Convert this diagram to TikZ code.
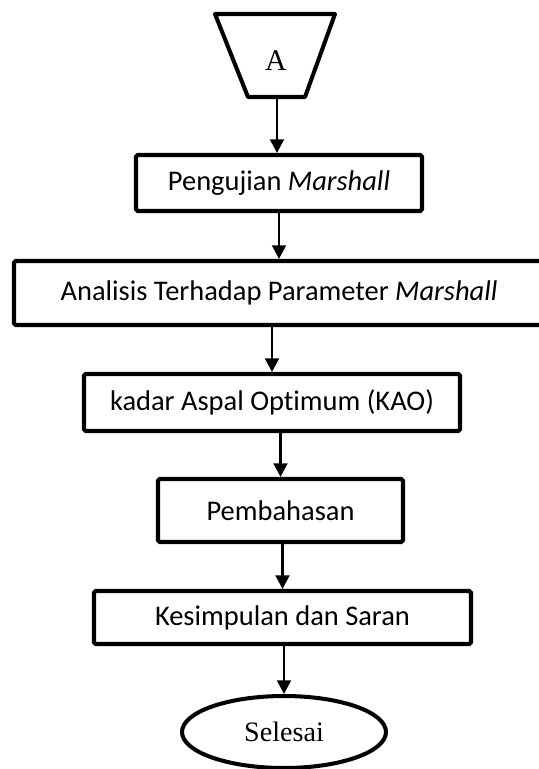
\documentclass[tikz,border=0pt]{standalone}
\usepackage{fontspec}
\setmainfont[Ligatures=NoCommon]{Carlito}
\newfontfamily\serifA{Liberation Serif}
\usepackage{tikz}
\usetikzlibrary{arrows.meta,shapes.geometric}

\begin{document}
\begin{tikzpicture}[
    process/.style={
        draw,
        line width=2.3pt,
        rounded corners=1pt,
        align=center,
        font=\fontsize{16.2}{19}\selectfont
    },
    terminal/.style={
        draw,
        ellipse,
        line width=2.3pt,
        minimum width=4.08cm,
        minimum height=1.44cm,
        font=\serifA\fontsize{16}{18}\selectfont
    },
    edge/.style={-{Triangle[length=0.27cm,width=0.27cm]}, line width=1.6pt}
]
\useasboundingbox (0,0) rectangle (10.78,-15.38);

% off-page connector
\draw[line width=2.3pt, line join=round] (4.30,-0.28) -- (6.70,-0.28) -- (6.10,-1.94) -- (4.96,-1.94) -- cycle;
\node[font=\serifA\fontsize{17}{19}\selectfont] (A) at (5.52,-1.22) {A};
\coordinate (Abot) at (5.54,-1.98);

\node[process, minimum width=5.72cm, minimum height=1.12cm] (U) at (5.58,-3.66) {Pengujian \textit{Marshall}};
\node[process, minimum width=10.60cm, minimum height=1.28cm] (P) at (5.58,-5.86) {Analisis Terhadap Parameter \textit{Marshall}};
\node[process, minimum width=7.52cm, minimum height=1.14cm] (K) at (5.44,-8.05) {kadar Aspal Optimum (KAO)};
\node[process, minimum width=4.90cm, minimum height=1.26cm] (B) at (5.61,-10.21) {Pembahasan};
\node[process, minimum width=7.54cm, minimum height=1.06cm] (S) at (5.65,-12.35) {Kesimpulan dan Saran};
\node[terminal] (E) at (5.68,-14.64) {Selesai};

\draw[edge] (Abot) -- (Abot |- U.north);
\draw[edge] (U.south -| P.north) -- (P.north);
\draw[edge] (P.south -| K.north) -- (K.north);
\draw[edge] (K.south -| B.north) -- (B.north);
\draw[edge] (B.south -| S.north) -- (S.north);
\draw[edge] (S.south -| E.north) -- (E.north);

\end{tikzpicture}
\end{document}
